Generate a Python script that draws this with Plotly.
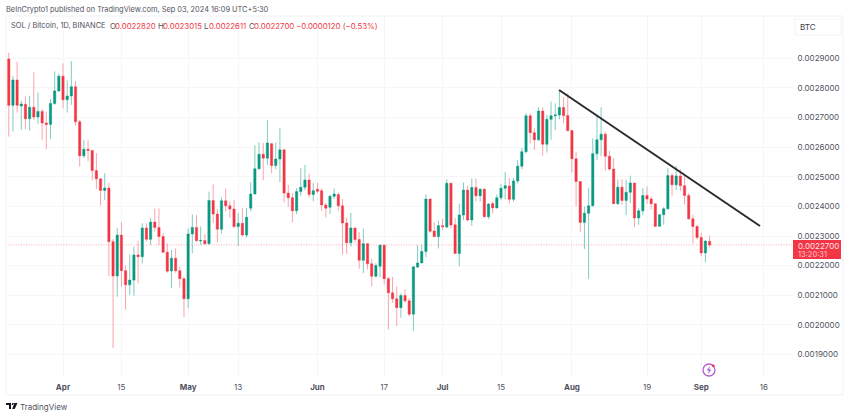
import pandas as pd
import plotly.graph_objects as go

# prices are read in units of 0.0000001 BTC
price_unit = 1e-7

first_day = "2024-03-19"

open_vals = [
    28980, 27415, 28270, 27390, 27450, 26965, 27350, 27020, 27210, 26820,
    26770, 27480, 27900, 28400, 27600, 27730, 28040, 26860, 25710, 25930,
    25890, 25210, 24930, 24540, 24620, 22810, 21650, 23030, 21830, 21350,
    21510, 22360, 22300, 23270, 22890, 23470, 23290, 22980, 22450, 21820,
    22250, 21830, 21560, 20880, 23070, 23290, 22830, 22850, 22740, 24200,
    23740, 23230, 24190, 24020, 23910, 23320, 23430, 23030, 23940, 24420,
    25270, 25760, 25630, 26120, 25380, 25600, 25910, 24450, 24290, 23850,
    24500, 24650, 24890, 24400, 24580, 24530, 24050, 23970, 24340, 24400,
    24020, 23440, 22770, 23270, 22880, 22180, 22740, 22060, 21640, 21980,
    22690, 21560, 21080, 20880, 20580, 20990, 20810, 20360, 21950, 22090,
    22480, 24250, 23170, 22980, 23350, 23300, 24780, 23380, 22410, 23710,
    24550, 23540, 24640, 24360, 24580, 23650, 24100, 23950, 24290, 24610,
    24690, 24240, 24860, 25360, 25850, 27060, 26490, 26250, 27220, 26100,
    26940, 27060, 27090, 27340, 27070, 26560, 25610, 24840, 23460, 23770,
    24020, 25780, 26250, 26440, 25690, 25260, 24090, 24650, 24200, 24480,
    24790, 23610, 23850, 24370, 24250, 24090, 23330, 23720, 23920, 25040,
    24730, 25030, 24700, 24370, 23580, 23320, 22950, 22430, 22820,
]

high_vals = [
    29190, 28400, 28890, 27570, 27710, 27740, 28530, 27850, 27280, 27200,
    27620, 28560, 28490, 28830, 28260, 28910, 28240, 26920, 26250, 26250,
    25910, 25800, 24950, 25120, 24790, 22890, 23280, 23470, 22000, 22380,
    22640, 22840, 23430, 23430, 23600, 23930, 23930, 23090, 22750, 22530,
    22580, 21970, 21630, 23260, 23730, 23710, 23320, 23070, 24500, 24750,
    23910, 24300, 24600, 24170, 24220, 23770, 23940, 23940, 24820, 26060,
    26170, 26140, 26920, 26140, 26160, 26660, 25930, 24730, 24450, 24620,
    25290, 25400, 25100, 24790, 24790, 24620, 24110, 24390, 24600, 24470,
    24250, 23620, 23780, 23280, 23140, 23250, 22750, 22230, 22090, 22710,
    22710, 21620, 21620, 21300, 21060, 21210, 20910, 21960, 22690, 22710,
    24400, 24260, 23460, 23510, 23580, 24920, 24800, 23610, 24100, 24810,
    24700, 24940, 24940, 24610, 24610, 24100, 24160, 24400, 24750, 25170,
    24960, 24960, 25560, 25970, 27150, 27150, 26640, 27350, 27350, 27090,
    27540, 27480, 27930, 27690, 27820, 26570, 25850, 24850, 24000, 24620,
    26300, 27030, 27350, 26530, 25880, 25630, 24900, 24920, 24900, 25040,
    24800, 23940, 24620, 24670, 24340, 24110, 23740, 23970, 25290, 25120,
    25370, 25260, 25010, 24450, 23720, 23380, 23100, 22850, 23015,
]

low_vals = [
    26360, 26530, 27170, 26580, 26610, 26560, 26920, 26790, 26250, 25930,
    26280, 27430, 27880, 27310, 27170, 27430, 26730, 25350, 25630, 25520,
    24880, 24590, 24030, 24220, 21650, 19210, 20950, 21290, 20510, 21010,
    20980, 21400, 22080, 22810, 22700, 23150, 22700, 22420, 21760, 21240,
    21760, 21260, 20260, 20560, 22420, 22810, 22700, 22700, 22700, 23430,
    22780, 23090, 23830, 23610, 23270, 22660, 22990, 22940, 23830, 24410,
    25240, 24880, 25400, 25120, 25260, 24820, 24130, 23980, 23460, 23740,
    24360, 24540, 24300, 24170, 24450, 23850, 23630, 23750, 24250, 23860,
    22370, 22390, 22650, 22770, 21890, 21750, 21870, 21300, 21600, 21610,
    21360, 19840, 20740, 19960, 20240, 20740, 20290, 19790, 21920, 22080,
    22290, 23100, 22950, 22580, 23200, 23260, 23260, 22400, 21980, 23540,
    23500, 23340, 24160, 24160, 23640, 23570, 23760, 23930, 24210, 24240,
    24100, 24160, 24780, 25260, 25780, 26130, 25910, 26210, 25710, 25820,
    26250, 26580, 26940, 26810, 26530, 25140, 24000, 23130, 22560, 21550,
    24000, 25570, 25690, 25200, 25210, 24080, 24050, 24060, 23700, 24110,
    23300, 23380, 23720, 24090, 23890, 23290, 23320, 23380, 23890, 24360,
    24560, 24530, 24060, 23550, 22740, 22880, 22310, 22110, 22611,
]

close_vals = [
    27415, 28270, 27415, 27460, 26965, 27350, 27020, 27210, 26820, 26770,
    27480, 27900, 28400, 27600, 27730, 28040, 26860, 25710, 25930, 25890,
    25210, 24930, 24540, 24620, 22810, 21650, 23030, 21830, 21350, 21510,
    22360, 22300, 23270, 22890, 23470, 23290, 22980, 22450, 21810, 22250,
    21830, 21560, 20880, 23070, 23290, 22840, 22850, 22740, 24200, 23740,
    23230, 24190, 24020, 23910, 23320, 23430, 23030, 23630, 24420, 25270,
    25760, 25630, 26140, 25380, 25600, 25910, 24450, 24290, 23850, 24500,
    24650, 24890, 24400, 24530, 24510, 24050, 23940, 24340, 24420, 24020,
    23440, 22770, 23270, 22880, 22180, 22740, 22060, 21640, 22000, 22690,
    21560, 21080, 20880, 20580, 20990, 20810, 20360, 21960, 22090, 22480,
    24250, 23160, 22980, 23350, 23310, 24780, 23370, 22410, 23710, 24550,
    23540, 24640, 24360, 24580, 23650, 24080, 23950, 24290, 24610, 24700,
    24240, 24860, 25360, 25850, 27060, 26490, 26250, 27220, 26100, 26940,
    27060, 27090, 27340, 27070, 26560, 25610, 24840, 23460, 23770, 24020,
    25780, 26250, 26440, 25690, 25260, 24090, 24650, 24200, 24480, 24790,
    23610, 23850, 24370, 24250, 24090, 23330, 23720, 23920, 25040, 24730,
    25030, 24700, 24370, 23580, 23320, 22950, 22430, 22830, 22700,
]

trend_x = ["2024-07-28 22:00", "2024-09-15 02:00"]
trend_y = [27932, 23338]

last_price = 22700

x_tick_vals = ["2024-04-01", "2024-04-15", "2024-05-01", "2024-05-13", "2024-06-01", "2024-06-17",
               "2024-07-01", "2024-07-15", "2024-08-01", "2024-08-19", "2024-09-01", "2024-09-16"]
x_tick_text = ["<b>Apr</b>", "15", "<b>May</b>", "13", "<b>Jun</b>", "17",
               "<b>Jul</b>", "15", "<b>Aug</b>", "19", "<b>Sep</b>", "16"]

y_tick_vals = [0.0019, 0.0020, 0.0021, 0.0022, 0.0023, 0.0024, 0.0025, 0.0026, 0.0027, 0.0028, 0.0029]

# header pieces: text, left edge in pixels, colour
legend_parts = [
    ("SOL / Bitcoin, 1D, BINANCE", 11, "#50535e", 7.4),
    ("O", 110, "#50535e", 7.8),
    ("0.0022820", 115, "#f23645", 7.8),
    ("H", 158, "#50535e", 7.8),
    ("0.0023015", 163, "#f23645", 7.8),
    ("L", 204, "#50535e", 7.8),
    ("0.0022611", 209, "#f23645", 7.8),
    ("C", 249, "#50535e", 7.8),
    ("0.0022700", 254, "#f23645", 7.8),
    ("\u22120.0000120 (\u22120.53%)", 296, "#f23645", 7.8),
]

WIDTH, HEIGHT = 850, 417
LEFT, RIGHT, TOP, BOTTOM = 6, 793, 16, 377
FONT = "Inter, Noto Sans, sans-serif"
FONT_SIZE = 8


# pixel position in the photo to paper coordinates, for the page furniture
def px(x):
    return (x - LEFT) / (RIGHT - LEFT)


def py(y):
    return 1 - (y - TOP) / (BOTTOM - TOP)


def note(text, x, y, size, color, anchor="left"):
    fig.add_annotation(text=text, x=px(x), y=py(y), xref="paper", yref="paper", showarrow=False,
                       xanchor=anchor, yanchor="middle", align=anchor,
                       font=dict(family=FONT, size=size, color=color),
                       borderpad=0, borderwidth=0)


def box(x0, y0, x1, y1, **style):
    fig.add_shape(type="rect", xref="paper", yref="paper", x0=px(x0), y0=py(y0), x1=px(x1), y1=py(y1), **style)


def path(points, **style):
    d = "M " + " L ".join(f"{px(a)} {py(b)}" for a, b in points) + " Z"
    fig.add_shape(type="path", xref="paper", yref="paper", path=d, **style)


dates = pd.date_range(first_day, periods=len(open_vals), freq="D")

fig = go.Figure()

fig.add_trace(go.Candlestick(
    x=dates,
    open=[v * price_unit for v in open_vals],
    high=[v * price_unit for v in high_vals],
    low=[v * price_unit for v in low_vals],
    close=[v * price_unit for v in close_vals],
    whiskerwidth=0,
    increasing=dict(line=dict(color="rgba(8,153,129,0.5)", width=1), fillcolor="#089981"),
    decreasing=dict(line=dict(color="rgba(242,54,69,0.45)", width=1), fillcolor="#f23645"),
    showlegend=False,
))

fig.add_trace(go.Scatter(
    x=trend_x,
    y=[v * price_unit for v in trend_y],
    mode="lines",
    line=dict(color="#2a2b30", width=2),
    showlegend=False,
))

fig.update_layout(
    width=WIDTH,
    height=HEIGHT,
    autosize=False,
    margin=dict(l=LEFT, r=WIDTH - RIGHT, t=TOP, b=HEIGHT - BOTTOM, pad=0),
    paper_bgcolor="white",
    plot_bgcolor="white",
    font=dict(family=FONT, size=FONT_SIZE, color="#50535e"),
    boxgap=0.22,
    xaxis=dict(
        type="date",
        range=["2024-03-18 08:00", "2024-09-23 00:00"],
        rangeslider=dict(visible=False),
        tickmode="array",
        tickvals=x_tick_vals,
        ticktext=x_tick_text,
        tickangle=0,
        ticks="outside",
        ticklen=2,
        tickcolor="rgba(0,0,0,0)",
        showgrid=True,
        gridcolor="#f5f6f8",
        gridwidth=1,
        zeroline=False,
        showline=False,
        tickfont=dict(family=FONT, size=FONT_SIZE, color="#50535e"),
    ),
    yaxis=dict(
        side="right",
        range=[0.0018237, 0.0030432],
        tickmode="array",
        tickvals=y_tick_vals,
        tickformat=".7f",
        ticks="outside",
        ticklen=2,
        tickcolor="rgba(0,0,0,0)",
        showgrid=True,
        gridcolor="#f5f6f8",
        gridwidth=1,
        zeroline=False,
        showline=False,
        tickfont=dict(family=FONT, size=FONT_SIZE, color="#50535e"),
    ),
)

# last price dotted line
fig.add_shape(type="line", xref="paper", yref="y", x0=0, x1=1,
              y0=last_price * price_unit, y1=last_price * price_unit,
              line=dict(color="rgba(242,54,69,0.5)", width=0.8, dash="1px,1.5px"))

# frame around the chart and the BTC box
box(6, 16, 843, 395, line=dict(color="#eff1f5", width=1), fillcolor="rgba(0,0,0,0)")
box(795, 19, 841, 35, line=dict(color="#f0f3fa", width=1), fillcolor="white")

# last price label
box(793, 240, 841, 259, line=dict(color="#f23645", width=0), fillcolor="#f23645")
note("0.0022700", 798, 245.5, FONT_SIZE, "#fde3e5")
note("13:20:31", 798, 254, 7.5, "#fbc4c8")
note("BTC", 800, 27, 8, "#3a3d45")

# header and footer
note("BeInCrypto1 published on TradingView.com, Sep 03, 2024 16:09 UTC+5:30", 6, 9.5, 7.4, "#50535e")
for text, left, color, size in legend_parts:
    note(text, left, 26, size, color)
note("TradingView", 20, 406.5, FONT_SIZE, "#50535e")

# TradingView logo
path([(6, 403), (11, 403), (11, 409), (9, 409), (9, 405), (6, 405)], fillcolor="#131722", line=dict(width=0))
path([(12.3, 403), (14, 403), (13, 405), (11.6, 405)], fillcolor="#131722", line=dict(width=0))
path([(14.4, 403), (17.5, 403), (14.7, 409), (12.2, 409)], fillcolor="#131722", line=dict(width=0))

# lightning badge under the last candle
fig.add_shape(type="circle", xref="paper", yref="paper", x0=px(703), x1=px(715), y0=py(364), y1=py(376),
              line=dict(color="#b15fd1", width=1.3), fillcolor="white")
path([(710, 366), (706.6, 370.6), (708.8, 370.6), (708, 374), (711.4, 369.4), (709.2, 369.4)],
     fillcolor="#b15fd1", line=dict(width=0))
fig.add_shape(type="circle", xref="paper", yref="paper", x0=px(711.8), x1=px(714.6), y0=py(364.4), y1=py(367.2),
              line=dict(width=0), fillcolor="#f23645")

# browser default body margin would push the figure off its place
fig.write_html("out.html", config=dict(displayModeBar=False), post_script="document.body.style.margin='0';")
